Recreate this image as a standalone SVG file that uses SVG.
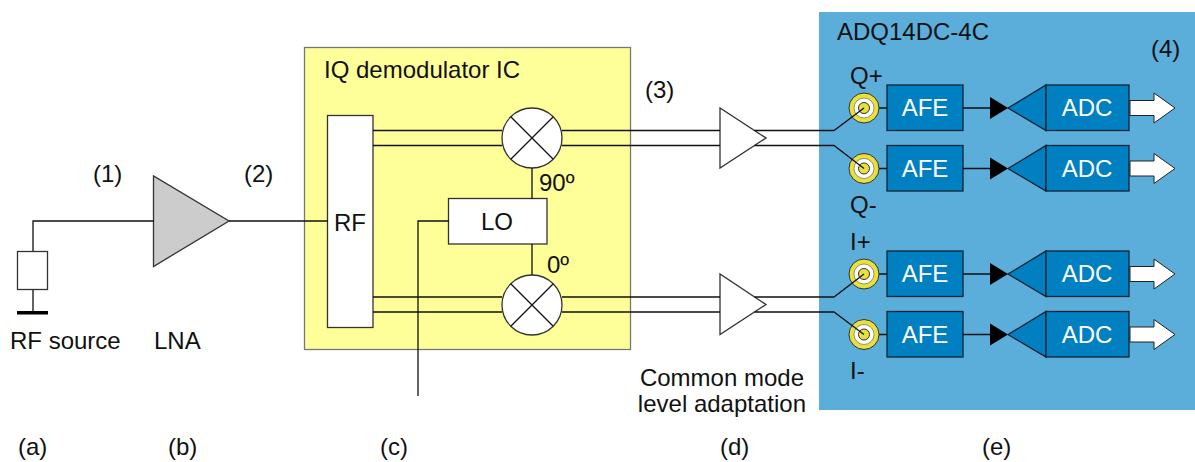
<svg xmlns="http://www.w3.org/2000/svg" width="1195" height="462" viewBox="0 0 1195 462">
<style>
text{font-family:"Liberation Sans",Arial,sans-serif;font-size:24px;fill:#111}
.w{fill:#fff}
.l{fill:none;stroke:#111;stroke-width:1.3}
.b{fill:#fff;stroke:#333;stroke-width:1.3}
.blk{fill:#0080c0;stroke:#123;stroke-width:1.3}
</style>
<defs>
<g id="chan">
<line class="l" x1="875" y1="0" x2="990" y2="0"/>
<path d="M990-11V11L1008 0Z" fill="#000"/>
<circle cx="864" r="15" fill="#e8e03c" stroke="#333" stroke-width="1"/>
<circle cx="864" r="10" fill="#fff" stroke="#555" stroke-width="0.600"/>
<circle cx="864" r="5.500" fill="#e8e03c" stroke="#333" stroke-width="1"/>
<rect class="blk" x="887" y="-23" width="76" height="45.500"/>
<path class="blk" d="M1008 0L1046-23V22.500Z"/>
<rect class="blk" x="1046" y="-23" width="83" height="45.500"/>
<path d="M1130-7.500H1154V-15L1175 0L1154 15V7.500H1130Z" fill="#fff" stroke="#222" stroke-width="1"/>
<text class="w" x="925" y="8" text-anchor="middle">AFE</text>
<text class="w" x="1087" y="8" text-anchor="middle">ADC</text>
</g>
<g id="mix">
<circle r="30" fill="#fff" stroke="#333" stroke-width="1.300"/>
<path class="l" d="M-21-21L21 21M-21 21L21-21"/>
</g>
</defs>
<rect id="ic" x="304.500" y="47.500" width="326" height="302" fill="#ffff99" stroke="#777" stroke-width="1.300"/>
<rect id="digitizer" x="819" y="12" width="376" height="398" fill="#5badda"/>
<g id="rf-source">
<rect x="17.500" y="251.500" width="30" height="38" fill="#fff" stroke="#333" stroke-width="1.300"/>
<rect x="17" y="311" width="31" height="3.500" fill="#000"/>
<text x="10" y="349">RF source</text>
</g>
<g id="lna">
<path d="M153.500 176V266.500L229 221Z" fill="#ccc" stroke="#333" stroke-width="1.300"/>
<text x="154" y="349">LNA</text>
</g>
<g id="rf"><rect class="b" x="327.500" y="115.500" width="45.500" height="212"/><text x="350" y="231" text-anchor="middle">RF</text></g>
<g id="lo"><rect class="b" x="448.500" y="198.500" width="98.500" height="45.500"/><text x="497" y="230" text-anchor="middle">LO</text></g>
<use id="mixer-q" href="#mix" x="532" y="138"/>
<use id="mixer-i" href="#mix" x="532" y="305"/>
<g id="amp-q"><path class="b" d="M720 108V168L766 138Z"/></g>
<g id="amp-i"><path class="b" d="M720 274V334.500L766 304.500Z"/></g>
<use id="ch-q-plus" href="#chan" y="108"/>
<use id="ch-q-minus" href="#chan" y="168.500"/>
<use id="ch-i-plus" href="#chan" y="274"/>
<use id="ch-i-minus" href="#chan" y="334.500"/>
<g id="connectors" class="l">
<path d="M154 221H33V251M33 290V312"/>
<path d="M229 221H328"/>
<path d="M373 130.500H502M373 145.500H502M373 297H502M373 312H502"/>
<path d="M532 168V199M532 244V275"/>
<path d="M449 221H418V396"/>
<path d="M562 130.500H720M562 145.500H720M562 297H720M562 312H720"/>
<path d="M754.500 130.500H834L864 108M754.500 145.500H834L864 168.500"/>
<path d="M754.500 297H834L864 274M754.500 312H834L864 334.500"/>
</g>
<g id="labels">
<text x="324" y="78">IQ demodulator IC</text>
<text x="837" y="40">ADQ14DC-4C</text>
<text x="1151" y="57">(4)</text>
<text x="645" y="98">(3)</text>
<text x="93" y="182">(1)</text>
<text x="244" y="182">(2)</text>
<text x="539" y="191">90º</text>
<text x="547" y="273">0º</text>
<text x="850" y="84">Q+</text>
<text x="850" y="213">Q-</text>
<text x="850" y="250">I+</text>
<text x="850" y="379">I-</text>
<text x="804" y="386" text-anchor="end">Common mode</text>
<text x="806" y="412" text-anchor="end">level adaptation</text>
<text x="18" y="455">(a)</text>
<text x="168" y="455">(b)</text>
<text x="380" y="455">(c)</text>
<text x="720" y="455">(d)</text>
<text x="982" y="455">(e)</text>
</g>
</svg>
